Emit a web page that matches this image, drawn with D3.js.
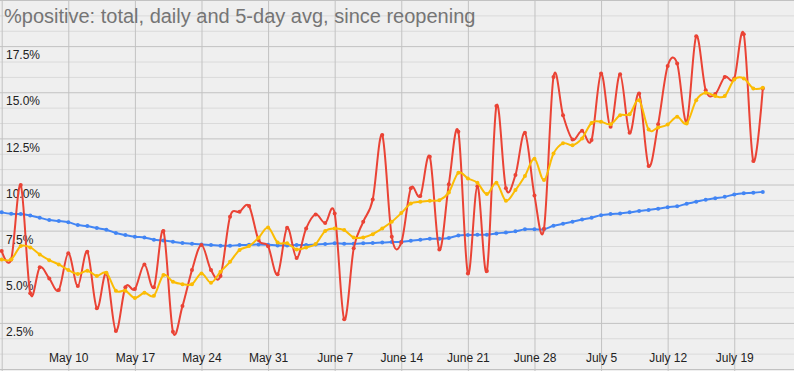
<!DOCTYPE html>
<html>
<head>
<meta charset="utf-8">
<script src="https://cdnjs.cloudflare.com/ajax/libs/d3/7.8.5/d3.min.js"></script>
<style>
  body { margin: 0; background: #efefef; }
  svg { display: block; font-family: Arial, "Liberation Sans", sans-serif; }
</style>
</head>
<body>
<svg></svg>
<script>
let startDay = "2020-05-03", endDay = "2020-07-22";

// %positive, cumulative since reopening
let total = [8.49, 8.41, 8.40, 8.32, 8.20, 8.07, 8.02, 7.96, 7.80, 7.75,
  7.64, 7.55, 7.37, 7.26, 7.17, 7.13, 7.01, 6.97, 6.90, 6.83,
  6.79, 6.75, 6.72, 6.68, 6.68, 6.72, 6.73, 6.75, 6.73, 6.70,
  6.70, 6.72, 6.72, 6.75, 6.77, 6.81, 6.79, 6.79, 6.81, 6.83,
  6.86, 6.88, 6.90, 6.95, 7.01, 7.06, 7.06, 7.10, 7.24, 7.26,
  7.28, 7.28, 7.35, 7.40, 7.46, 7.57, 7.57, 7.57, 7.76, 7.87,
  7.98, 8.10, 8.20, 8.34, 8.40, 8.43, 8.49, 8.56, 8.62, 8.68,
  8.77, 8.82, 8.96, 9.06, 9.18, 9.26, 9.33, 9.46, 9.53, 9.55, 9.60];

// %positive, daily
let daily = [6.39, 5.94, 9.97, 4.10, 5.51, 4.91, 4.28, 6.27, 4.50, 6.36,
  3.29, 5.18, 2.06, 4.43, 4.33, 5.67, 4.43, 7.48, 2.02, 3.41,
  5.36, 6.72, 5.36, 5.04, 8.25, 8.52, 8.83, 6.99, 6.65, 5.13,
  7.65, 6.02, 7.62, 8.38, 7.91, 8.43, 2.69, 6.54, 7.98, 9.19,
  12.68, 7.17, 6.85, 9.79, 9.37, 11.50, 6.48, 10.02, 12.86, 5.18,
  9.91, 5.31, 14.25, 9.79, 10.51, 12.80, 9.40, 7.60, 15.83, 13.76,
  12.44, 12.91, 12.41, 16.02, 13.13, 15.98, 12.80, 14.93, 11.00, 13.27,
  16.42, 16.56, 13.40, 18.04, 15.11, 14.90, 15.83, 15.75, 18.15, 11.27, 15.21];

// %positive, 5-day average
let avg5 = [5.94, 5.94, 6.66, 6.59, 6.21, 5.90, 5.67, 5.36, 5.15, 5.33,
  5.04, 5.22, 4.24, 4.24, 3.85, 4.13, 3.97, 5.09, 4.73, 4.60,
  4.60, 5.18, 4.68, 5.27, 5.81, 6.45, 6.66, 7.11, 7.67, 6.86,
  6.81, 6.48, 6.59, 6.77, 7.48, 7.62, 7.53, 7.13, 7.13, 7.31,
  7.62, 7.98, 8.45, 8.97, 9.06, 9.12, 9.15, 9.57, 10.64, 10.33,
  10.09, 9.48, 10.09, 9.12, 9.70, 10.46, 11.40, 10.24, 11.68, 12.23,
  12.13, 12.50, 13.34, 13.40, 13.27, 13.76, 13.81, 14.57, 12.98, 13.09,
  13.25, 13.67, 13.31, 14.57, 14.97, 14.79, 14.79, 15.69, 15.75, 15.21, 15.24];

let yTicks = [2.5, 5, 7.5, 10, 12.5, 15, 17.5];
let xTickLabels = ["May 10", "May 17", "May 24", "May 31", "June 7", "June 14",
  "June 21", "June 28", "July 5", "July 12", "July 19"];

let title = "%positive: total, daily and 5-day avg, since reopening";

let parse = d3.timeParse("%Y-%m-%d");
let days = d3.timeDay.range(parse(startDay), d3.timeDay.offset(parse(endDay), 1));

let svgWidth = 794, svgHeight = 371;
let svg = d3.select('svg').attr('width', svgWidth).attr('height', svgHeight);

svg.append('rect').attr('width', svgWidth).attr('height', svgHeight).attr('fill', '#efefef');

let x = d3.scaleTime().domain([parse(startDay), parse(endDay)]).range([1.7, 762.8]);
let y = d3.scaleLinear().domain([0, 20]).range([369, 0]);

// minor horizontal gridlines
let minor = d3.range(0, 25).map(i => i * 2.5 / 3).filter((v, i) => i % 3 != 0);
let gMinor = svg.append('g')
  .call(d3.axisLeft(y).tickValues(minor).tickSize(-svgWidth).tickFormat(''));
gMinor.select('.domain').remove();
gMinor.selectAll('line').attr('stroke', '#dadada');

// vertical gridlines + date labels
let gx = svg.append('g').attr('transform', 'translate(0,' + svgHeight + ')')
  .call(d3.axisBottom(x).ticks(d3.timeWeek.every(1)).tickSize(-svgHeight)
    .tickFormat((d, i) => i ? xTickLabels[i - 1] : ''));
gx.select('.domain').remove();
gx.selectAll('line').attr('stroke', '#c2c2c2');
gx.selectAll('text').attr('y', -9.5).attr('dy', null)
  .attr('font-size', 12).attr('font-family', 'Arial, "Liberation Sans", sans-serif').attr('fill', '#222');

// major horizontal gridlines + labels
let gy = svg.append('g')
  .call(d3.axisLeft(y).tickValues(d3.range(0, 9).map(i => i * 2.5)).tickSize(-svgWidth)
    .tickFormat(d => yTicks.includes(d) ? d.toFixed(1) + '%' : ''));
gy.select('.domain').remove();
gy.selectAll('line').attr('stroke', '#c2c2c2');
gy.selectAll('text').attr('x', 6).attr('y', 12.7).attr('dy', null).attr('text-anchor', 'start')
  .attr('font-size', 12).attr('font-family', 'Arial, "Liberation Sans", sans-serif').attr('fill', '#222');

svg.append('text').attr('x', 4).attr('y', 23).attr('font-size', 20).attr('fill', '#757575')
  .text(title);

let series = [
  {values: total, color: '#4285f4'},
  {values: daily, color: '#ea4335'},
  {values: avg5, color: '#fbbc04'}
];

let line = d3.line().x((d, i) => x(days[i])).y(d => y(d)).curve(d3.curveCardinal);

series.forEach(s => {
  let g = svg.append('g');
  g.append('path').attr('d', line(s.values)).attr('fill', 'none')
    .attr('stroke', s.color).attr('stroke-width', 2);
  g.selectAll('circle').data(s.values).enter().append('circle')
    .attr('cx', (d, i) => x(days[i])).attr('cy', d => y(d)).attr('r', 2)
    .attr('fill', s.color);
});
</script>
</body>
</html>
